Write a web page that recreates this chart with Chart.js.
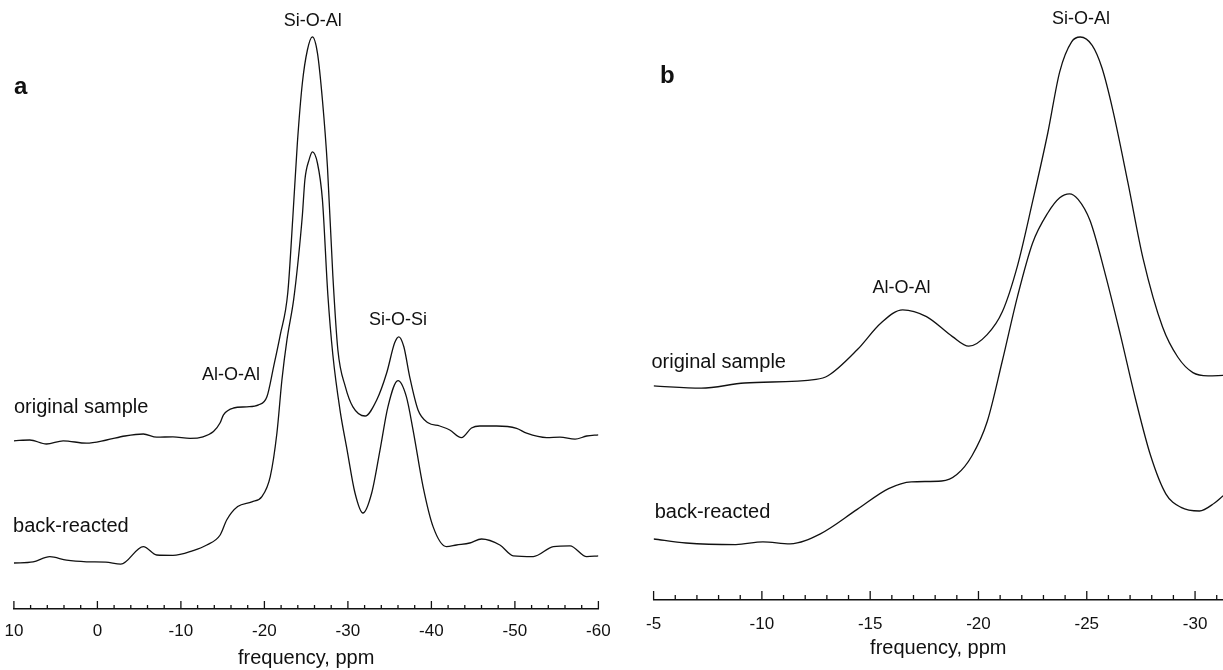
<!DOCTYPE html>
<html><head><meta charset="utf-8">
<script src="https://cdn.jsdelivr.net/npm/chart.js@4.4.1/dist/chart.umd.min.js"></script>
<style>
html,body{margin:0;padding:0;background:#fff;width:1223px;height:670px;overflow:hidden}
canvas{position:absolute;top:0}
#ca{left:0}
#cb{left:625px}
</style></head><body>
<canvas id="ca" width="625" height="670"></canvas>
<canvas id="cb" width="598" height="670"></canvas>
<script>
// ---------- Panel a data (ppm, intensity relative to own baseline) ----------
const aOrigPpm = [10, 8.1, 6.1, 4.1, 1.3, -1.1, -3.3, -5.5, -7.1, -9.05, -11.1, -12.65, -13.9, -14.7, -15.1, -16.3, -17.9, -19.3, -20.3, -21.1, -21.9, -22.8, -23.4, -23.95, -24.55, -25.15, -25.75, -26.35, -26.95, -27.55, -28.2, -28.8, -29.7, -30.6, -32.05, -33.45, -34.65, -35.6, -36.1, -36.7, -37.4, -38.4, -39.6, -41.0, -42.2, -43.6, -44.8, -45.8, -47.8, -50.2, -51.4, -53.8, -55.4, -57.2, -58.6, -60];
const aOrigInt = [-0.7, -0.5, -1.5, -0.7, -1.3, -0.5, 0.5, 1.0, 0.2, 0.3, -0.1, 0.3, 1.6, 3.8, 5.8, 7.5, 7.8, 8.3, 10.3, 17.8, 25.8, 36.3, 55.0, 73.8, 88.8, 97.0, 100.3, 96.3, 84.5, 67.8, 40.5, 22.0, 12.8, 7.8, 5.5, 9.5, 16.3, 23.8, 25.3, 22.8, 15.3, 7.0, 3.8, 3.0, 2.0, 0.1, 2.5, 3.0, 3.0, 2.4, 1.2, 0.1, 0.2, -0.3, 0.5, 0.8];
const aBackPpm = [10, 7.7, 5.7, 3.7, 1.3, -1.0, -2.8, -5.5, -7.1, -9.05, -11.45, -13.1, -14.7, -15.5, -16.8, -18.5, -19.7, -20.7, -21.5, -22.1, -22.7, -23.5, -24.05, -24.55, -24.85, -25.35, -25.75, -26.35, -26.95, -27.6, -28.2, -29.05, -29.9, -30.85, -31.8, -32.85, -33.85, -34.8, -36.0, -37.0, -37.8, -39.0, -40.2, -41.8, -43.0, -44.6, -46.0, -48.2, -49.8, -52.2, -54.6, -56.6, -58.6, -60];
const aBackInt = [-1.5, -1.2, 0.1, -0.8, -1.2, -1.3, -1.8, 2.6, 0.5, 0.4, 1.6, 3.0, 5.5, 9.3, 12.6, 13.8, 15.1, 20.1, 31.0, 44.3, 54.3, 64.3, 74.3, 85.5, 94.3, 99.3, 101.3, 98.5, 89.3, 65.5, 50.5, 36.8, 26.8, 16.0, 11.0, 16.0, 26.8, 37.6, 44.1, 40.1, 31.8, 17.6, 7.6, 2.6, 3.0, 3.5, 4.5, 3.0, 0.3, 0.1, 2.6, 2.8, 0.1, 0.3];
const aOrigOffset = 42.75;
const aBackOffset = 13;
const aTickValues = [10, 8, 6, 4, 2, 0, -2, -4, -6, -8, -10, -12, -14, -16, -18, -20, -22, -24, -26, -28, -30, -32, -34, -36, -38, -40, -42, -44, -46, -48, -50, -52, -54, -56, -58, -60];
const aTickLabels = [10, 0, -10, -20, -30, -40, -50, -60];

// ---------- Panel b data ----------
const bOrigPpm = [-5.0, -7.2, -9.2, -12.5, -13.05, -14.4, -15.5, -16.5, -17.6, -18.8, -19.55, -20.4, -21.1, -21.8, -22.5, -23.2, -23.75, -24.3, -24.7, -25.25, -25.7, -26.2, -26.9, -27.6, -28.5, -29.2, -29.9, -30.6, -31.3];
const bOrigInt = [0.3, -0.3, 1.0, 1.9, 2.8, 9.3, 16.0, 19.3, 17.6, 12.6, 10.2, 13.1, 18.8, 30.3, 46.4, 63.5, 78.8, 86.3, 87.5, 85.4, 79.8, 69.3, 51.1, 32.1, 15.0, 7.5, 3.6, 2.8, 2.9];
const bBackPpm = [-5.0, -6.5, -8.8, -10.05, -11.3, -12.7, -14.4, -15.85, -16.9, -18.3, -19.0, -19.7, -20.4, -21.1, -21.8, -22.5, -23.2, -23.75, -24.2, -24.6, -25.15, -25.85, -26.55, -27.25, -27.95, -28.65, -29.35, -30.2, -30.9, -31.3];
const bBackInt = [1.0, 0.0, -0.4, 0.3, -0.2, 2.3, 8.4, 13.6, 15.3, 15.5, 17.1, 21.8, 30.3, 45.5, 61.6, 75.0, 82.5, 86.3, 87.3, 85.9, 80.6, 67.3, 52.1, 36.0, 21.8, 12.3, 8.9, 8.0, 10.0, 11.8];
const bOrigOffset = 53.25;
const bBackOffset = 14.25;
const bTickValues = [-5, -6, -7, -8, -9, -10, -11, -12, -13, -14, -15, -16, -17, -18, -19, -20, -21, -22, -23, -24, -25, -26, -27, -28, -29, -30, -31];
const bTickLabels = [-5, -10, -15, -20, -25, -30];

// ---------- text annotations (ppm, plotted intensity) ----------
const aTexts = [
  {text: 'a', x: 10, y: 130.5, align: 'left', size: 24, bold: true},
  {text: 'Si-O-Al', x: -25.8, y: 147.0, align: 'center', size: 18},
  {text: 'Si-O-Si', x: -36.0, y: 72.3, align: 'center', size: 18},
  {text: 'Al-O-Al', x: -16.0, y: 58.5, align: 'center', size: 18},
  {text: 'original sample', x: 10, y: 50.3, align: 'left', size: 20},
  {text: 'back-reacted', x: 10.1, y: 20.6, align: 'left', size: 20}
];
const bTexts = [
  {text: 'b', x: -5.3, y: 131, align: 'left', size: 24, bold: true},
  {text: 'Si-O-Al', x: -24.73, y: 145.3, align: 'center', size: 18},
  {text: 'Al-O-Al', x: -16.45, y: 77.9, align: 'center', size: 18},
  {text: 'original sample', x: -4.9, y: 59.3, align: 'left', size: 20},
  {text: 'back-reacted', x: -5.05, y: 21.8, align: 'left', size: 20}
];

const FONT = "'Liberation Sans', Arial, Helvetica, sans-serif";
Chart.defaults.font.family = FONT;
Chart.defaults.color = '#111';

const inwardTicks = {
  id: 'inwardTicks',
  afterDraw(chart, args, opts) {
    const xs = chart.scales.x, ctx = chart.ctx, base = chart.chartArea.bottom;
    ctx.save();
    ctx.strokeStyle = '#111';
    ctx.lineWidth = 1.3;
    xs.ticks.forEach(t => {
      const px = xs.getPixelForValue(t.value);
      const len = opts.major.includes(t.value) ? opts.majorLen : opts.minorLen;
      ctx.beginPath();
      ctx.moveTo(px, base);
      ctx.lineTo(px, base - len);
      ctx.stroke();
    });
    ctx.restore();
  }
};
const textLabels = {
  id: 'textLabels',
  afterDraw(chart, args, opts) {
    const xs = chart.scales.x, ys = chart.scales.y, ctx = chart.ctx;
    ctx.save();
    ctx.fillStyle = '#111';
    ctx.textBaseline = 'middle';
    opts.items.forEach(it => {
      ctx.font = (it.bold ? 'bold ' : '') + it.size + 'px ' + FONT;
      ctx.textAlign = it.align;
      ctx.fillText(it.text, xs.getPixelForValue(it.x), ys.getPixelForValue(it.y));
    });
    ctx.restore();
  }
};

function series(ppm, vals, off) {
  return ppm.map((p, i) => ({x: p, y: vals[i] + off}));
}
function makeChart(id, cfg) {
  const ds = d => ({
    data: d, borderColor: '#111', borderWidth: 1.3, pointRadius: 0,
    cubicInterpolationMode: 'monotone', fill: false
  });
  return new Chart(document.getElementById(id), {
    type: 'line',
    data: {datasets: [ds(cfg.orig), ds(cfg.back)]},
    options: {
      responsive: false, animation: false, devicePixelRatio: 1,
      layout: {padding: {left: cfg.padL, right: cfg.padR, top: 0, bottom: 0}},
      plugins: {
        legend: {display: false}, tooltip: {enabled: false},
        inwardTicks: {major: cfg.labels, majorLen: cfg.majorLen, minorLen: cfg.minorLen},
        textLabels: {items: cfg.texts}
      },
      scales: {
        x: {
          type: 'linear', reverse: true, min: cfg.min, max: cfg.max,
          afterBuildTicks: s => { s.ticks = cfg.ticks.map(v => ({value: v})); },
          afterFit: s => { s.height = cfg.scaleH; s.paddingLeft = 0; s.paddingRight = 0; },
          grid: {display: false, drawTicks: false},
          border: {display: true, color: '#111', width: 1.4},
          ticks: {
            autoSkip: false, maxRotation: 0, padding: cfg.tickPad,
            font: {size: 17}, color: '#111',
            callback: v => cfg.labels.includes(v) ? String(v) : ''
          },
          title: {display: true, text: 'frequency, ppm', font: {size: 20}, color: '#111',
                  padding: {top: 0, bottom: cfg.titlePad}}
        },
        y: {display: false, min: 0, max: cfg.yMax}
      }
    },
    plugins: [inwardTicks, textLabels]
  });
}

makeChart('ca', {
  orig: series(aOrigPpm, aOrigInt, aOrigOffset),
  back: series(aBackPpm, aBackInt, aBackOffset),
  min: -60, max: 10, ticks: aTickValues, labels: aTickLabels, texts: aTexts,
  padL: 13.9, padR: 26.6, scaleH: 61, yMax: 152.25, tickPad: 12, titlePad: 0,
  majorLen: 8, minorLen: 4
});
makeChart('cb', {
  orig: series(bOrigPpm, bOrigInt, bOrigOffset),
  back: series(bBackPpm, bBackInt, bBackOffset),
  min: -31.29, max: -5, ticks: bTickValues, labels: bTickLabels, texts: bTexts,
  padL: 28.6, padR: 0, scaleH: 70, yMax: 150, tickPad: 14, titlePad: 10,
  majorLen: 9, minorLen: 5
});
</script>
</body></html>
